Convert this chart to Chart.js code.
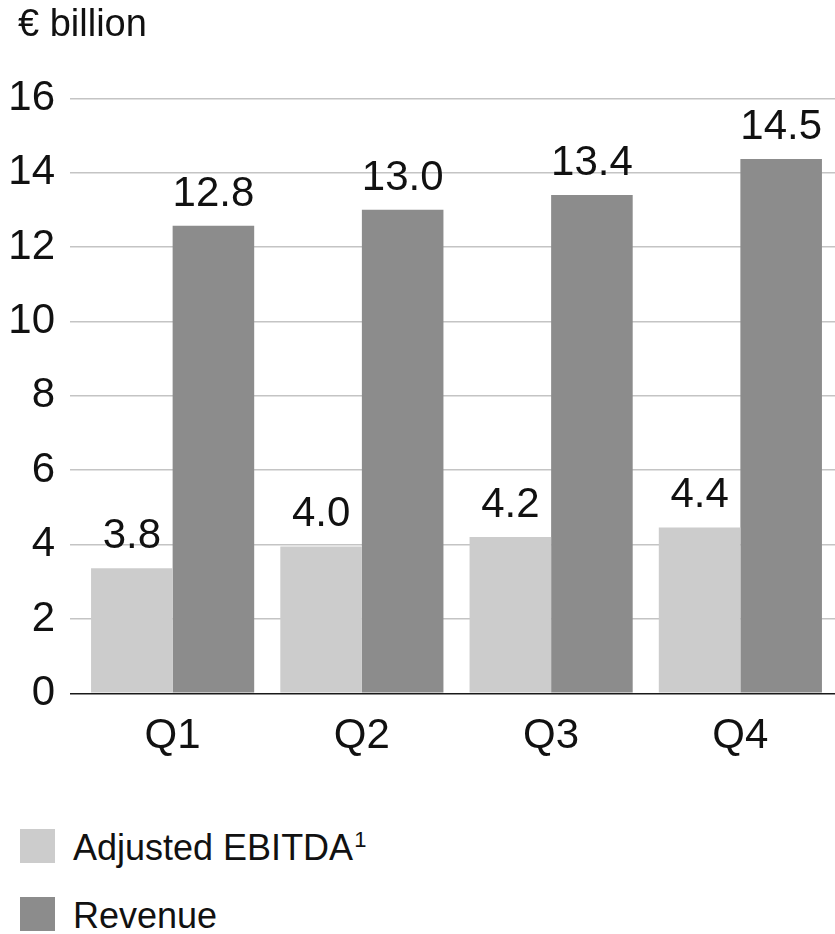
<!DOCTYPE html>
<html>
<head>
<meta charset="utf-8">
<script src="https://cdn.jsdelivr.net/npm/chart.js@4.4.1/dist/chart.umd.min.js"></script>
<style>
  html, body { margin: 0; padding: 0; background: #ffffff; }
  #wrap { position: relative; width: 835px; height: 934px; overflow: hidden; }
  #cbox { position: absolute; left: 0; top: 0; width: 835px; height: 780px; }
  #legend { position: absolute; left: 20px; top: 829px; font-family: "Liberation Sans", Arial, sans-serif; }
  .item { display: flex; align-items: center; height: 34px; margin-bottom: 34px; font-size: 36px; color: #111; white-space: nowrap; }
  .sw { width: 35px; height: 34px; margin-right: 18px; flex: none; }
  .txt { position: relative; top: 2px; line-height: 34px; }
  .txt sup { font-size: 22px; vertical-align: 13px; line-height: 0; margin-left: 1px; }
</style>
</head>
<body>
<div id="wrap">
  <div id="cbox"><canvas id="c"></canvas></div>
  <div id="legend"></div>
</div>
<script>
// ---- data ----
const quarters = ['Q1', 'Q2', 'Q3', 'Q4'];
const ebitdaBars = [3.36, 3.95, 4.20, 4.46];
const revenueBars = [12.57, 13.00, 13.40, 14.37];
const ebitdaLabels = [3.8, 4.0, 4.2, 4.4];
const revenueLabels = [12.8, 13.0, 13.4, 14.5];
const yTicks = [0, 2, 4, 6, 8, 10, 12, 14, 16];
const seriesNames = ['Adjusted EBITDA', 'Revenue'];
const seriesNotes = ['1', ''];
const unitTitle = '€ billion';

const NUM_FONT = '"Liberation Sans", Arial, sans-serif';
const TXT_FONT = '"Liberation Sans", Arial, sans-serif';
const colors = ['#cccccc', '#8c8c8c'];

const valueLabels = {
  id: 'valueLabels',
  afterDatasetsDraw(chart) {
    const ctx = chart.ctx;
    const sets = [ebitdaLabels, revenueLabels];
    ctx.save();
    ctx.font = '42px ' + NUM_FONT;
    ctx.fillStyle = '#111111';
    ctx.textAlign = 'center';
    ctx.textBaseline = 'alphabetic';
    chart.data.datasets.forEach((ds, di) => {
      const meta = chart.getDatasetMeta(di);
      meta.data.forEach((bar, i) => {
        ctx.fillText(sets[di][i].toFixed(1), bar.x, bar.y - 20);
      });
    });
    ctx.restore();
  }
};

// indent the unit title slightly from the canvas edge
const titleIndent = {
  id: 'titleIndent',
  afterLayout(chart) {
    if (chart.titleBlock) { chart.titleBlock.left = 18; }
  }
};

const chart = new Chart(document.getElementById('c'), {
  type: 'bar',
  data: {
    labels: quarters,
    datasets: [
      { label: seriesNames[0], data: ebitdaBars, backgroundColor: colors[0], borderWidth: 0 },
      { label: seriesNames[1], data: revenueBars, backgroundColor: colors[1], borderWidth: 0 }
    ]
  },
  options: {
    responsive: true,
    maintainAspectRatio: false,
    animation: false,
    devicePixelRatio: 1,
    layout: { padding: { left: 0, right: 0, top: 0, bottom: 0 } },
    datasets: { bar: { categoryPercentage: 0.862, barPercentage: 1.0 } },
    plugins: {
      legend: { display: false },
      tooltip: { enabled: false },
      title: {
        display: true,
        text: unitTitle,
        align: 'start',
        color: '#111111',
        font: { family: TXT_FONT, size: 38, weight: 'normal', lineHeight: 1.2 },
        padding: { top: 3, bottom: 49.7 }
      }
    },
    scales: {
      x: {
        offset: true,
        grid: { display: false, drawTicks: false },
        border: { display: false },
        ticks: {
          color: '#111111',
          padding: 18,
          font: { family: NUM_FONT, size: 42, lineHeight: 1.2 },
          maxRotation: 0
        },
        afterFit(scale) { scale.height = 86.7; }
      },
      y: {
        min: 0,
        max: 16,
        afterBuildTicks(scale) { scale.ticks = yTicks.map(v => ({ value: v })); },
        grid: {
          color: (c) => (c.tick && c.tick.value === 0) ? '#1a1a1a' : '#c4c4c4',
          lineWidth: 1.5,
          drawTicks: true,
          tickLength: 8
        },
        border: { display: false },
        ticks: {
          color: '#111111',
          padding: 15,
          font: { family: NUM_FONT, size: 42, lineHeight: 1.2 }
        },
        afterFit(scale) { scale.width = 78; }
      }
    }
  },
  plugins: [valueLabels, titleIndent]
});

// HTML legend built from the chart's datasets
const legendEl = document.getElementById('legend');
chart.data.datasets.forEach((ds, i) => {
  const item = document.createElement('div');
  item.className = 'item';
  const sw = document.createElement('div');
  sw.className = 'sw';
  sw.style.background = ds.backgroundColor;
  const txt = document.createElement('span');
  txt.className = 'txt';
  txt.textContent = ds.label;
  if (seriesNotes[i]) {
    const sup = document.createElement('sup');
    sup.textContent = seriesNotes[i];
    txt.appendChild(sup);
  }
  item.appendChild(sw);
  item.appendChild(txt);
  legendEl.appendChild(item);
});
</script>
</body>
</html>
